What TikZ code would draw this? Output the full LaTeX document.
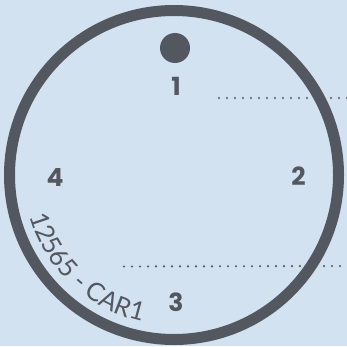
\documentclass[tikz,border=0pt]{standalone}
\usepackage{fontspec}
\setmainfont{Poppins}
\newfontfamily\arcfont{Lato}
\usetikzlibrary{calc, decorations.text}
\definecolor{bgblue}{RGB}{211,226,241}
\definecolor{rim}{RGB}{83,87,95}

\begin{document}
\begin{tikzpicture}[x=1pt, y=1pt,
    poslabel/.style={font=\fontsize{25}{30}\selectfont\bfseries, text=rim, inner sep=0pt},
    leader/.style={rim, line width=2.4pt, line cap=round, dash pattern=on 0pt off 8pt}]
  \fill[bgblue] (0,0) rectangle (347,346);
  \useasboundingbox (0,0) rectangle (347,346);
  \coordinate (c) at (174,171);
  % Position labels
  \node[poslabel] (p1) at (176,260) {1};
  \node[poslabel] (p2) at (298.5,169.5) {2};
  \node[poslabel] (p3) at (176,43.5) {3};
  \node[poslabel] (p4) at (55,168.5) {4};
  % Leader lines
  \coordinate (r1) at (347,248);
  \coordinate (r3) at (347,80);
  \draw[leader] ($(p1)+(43,-12)$) -- (r1);
  \draw[leader] ($(p3)+(-52,36)$) -- (r3);
  % Rim and marker
  \draw[rim, line width=11pt] (c) circle (164.5);
  \fill[rim] (175,298) circle (15);
  \path[decorate, decoration={text along path, text align=left,
      text={|\arcfont\fontsize{25.5}{30}\selectfont\color{rim}|12565 - CAR1}}]
    ($(c)+(196:150)$) arc (196:268:150);
\end{tikzpicture}
\end{document}
